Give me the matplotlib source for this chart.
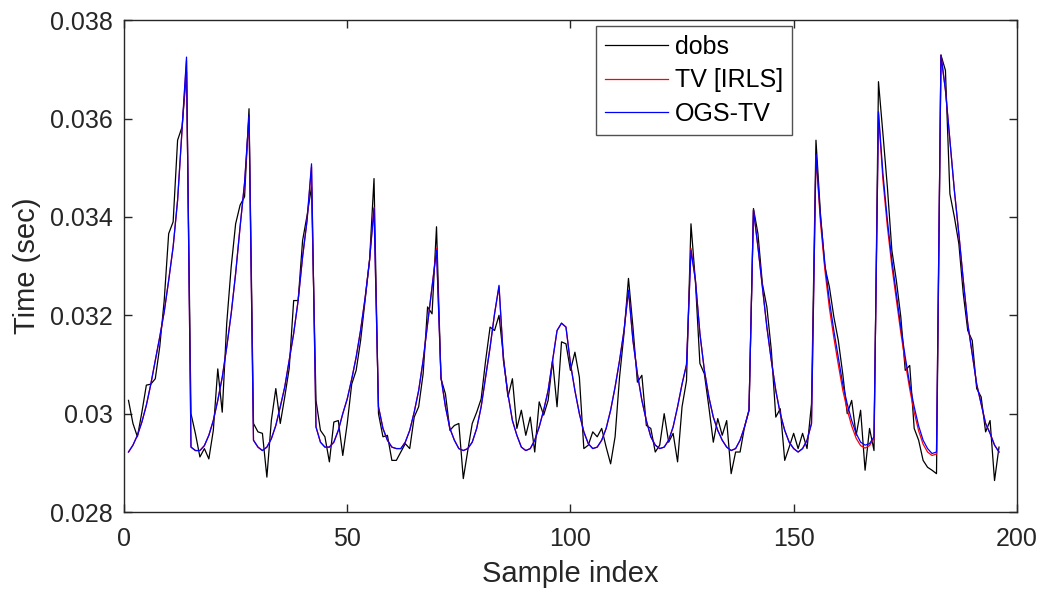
import matplotlib
matplotlib.use('Agg')
import matplotlib.pyplot as plt

# sample index 1..196
samples = list(range(1, 197))

dobs = [
    0.03027, 0.02980, 0.02953, 0.03003, 0.03058, 0.03060, 0.03071, 0.03136, 0.03230, 0.03366,
    0.03390, 0.03556, 0.03583, 0.03695, 0.03000, 0.02959, 0.02912, 0.02929, 0.02908, 0.02966,
    0.03091, 0.03003, 0.03183, 0.03298, 0.03386, 0.03424, 0.03441, 0.03620, 0.02980, 0.02963,
    0.02960, 0.02871, 0.02986, 0.03051, 0.02980, 0.03034, 0.03092, 0.03230, 0.03230, 0.03352,
    0.03403, 0.03461, 0.03027, 0.02966, 0.02953, 0.02902, 0.02983, 0.02986, 0.02915, 0.02980,
    0.03060, 0.03088, 0.03149, 0.03230, 0.03312, 0.03478, 0.03000, 0.02953, 0.02956, 0.02905,
    0.02905, 0.02922, 0.02939, 0.02929, 0.02993, 0.03014, 0.03081, 0.03217, 0.03203, 0.03380,
    0.03071, 0.03040, 0.02966, 0.02976, 0.02980, 0.02868, 0.02925, 0.02980, 0.03003, 0.03030,
    0.03108, 0.03176, 0.03169, 0.03200, 0.03115, 0.03034, 0.03071, 0.02970, 0.03007, 0.02956,
    0.02993, 0.02922, 0.03024, 0.02997, 0.03027, 0.03108, 0.03014, 0.03146, 0.03142, 0.03088,
    0.03125, 0.03074, 0.02929, 0.02936, 0.02963, 0.02953, 0.02970, 0.02932, 0.02898, 0.02953,
    0.03074, 0.03163, 0.03275, 0.03176, 0.03064, 0.03078, 0.02976, 0.02970, 0.02922, 0.02936,
    0.03000, 0.02942, 0.02960, 0.02902, 0.03014, 0.03067, 0.03386, 0.03268, 0.03102, 0.03081,
    0.03014, 0.02942, 0.02990, 0.02956, 0.02986, 0.02878, 0.02922, 0.02922, 0.02973, 0.03007,
    0.03417, 0.03366, 0.03264, 0.03217, 0.03129, 0.02993, 0.03010, 0.02905, 0.02932, 0.02960,
    0.02929, 0.02960, 0.02929, 0.03020, 0.03556, 0.03407, 0.03298, 0.03258, 0.03197, 0.03149,
    0.03081, 0.03000, 0.03027, 0.02956, 0.03007, 0.02885, 0.02970, 0.02925, 0.03675, 0.03569,
    0.03460, 0.03332, 0.03271, 0.03197, 0.03088, 0.03098, 0.02970, 0.02946, 0.02905, 0.02891,
    0.02885, 0.02878, 0.03729, 0.03698, 0.03447, 0.03400, 0.03346, 0.03244, 0.03169, 0.03149,
    0.03051, 0.03034, 0.02963, 0.02986, 0.02864, 0.02932,
]

tv_irls = [
    0.02922, 0.02936, 0.02956, 0.02983, 0.03017, 0.03060, 0.03108, 0.03156, 0.03207, 0.03271,
    0.03339, 0.03434, 0.03575, 0.03718, 0.02932, 0.02925, 0.02925, 0.02935, 0.02956, 0.02986,
    0.03027, 0.03074, 0.03135, 0.03203, 0.03285, 0.03380, 0.03468, 0.03602, 0.02946, 0.02932,
    0.02925, 0.02932, 0.02949, 0.02976, 0.03014, 0.03054, 0.03108, 0.03163, 0.03230, 0.03319,
    0.03393, 0.03502, 0.02973, 0.02942, 0.02932, 0.02932, 0.02942, 0.02966, 0.03000, 0.03030,
    0.03070, 0.03115, 0.03170, 0.03235, 0.03312, 0.03420, 0.03014, 0.02970, 0.02946, 0.02932,
    0.02929, 0.02929, 0.02942, 0.02966, 0.03003, 0.03047, 0.03108, 0.03183, 0.03258, 0.03336,
    0.03074, 0.03014, 0.02970, 0.02946, 0.02929, 0.02925, 0.02929, 0.02942, 0.02970, 0.03014,
    0.03074, 0.03135, 0.03203, 0.03258, 0.03108, 0.03040, 0.02986, 0.02956, 0.02932, 0.02925,
    0.02929, 0.02946, 0.02973, 0.03007, 0.03047, 0.03108, 0.03169, 0.03184, 0.03176, 0.03102,
    0.03047, 0.03000, 0.02963, 0.02939, 0.02929, 0.02932, 0.02946, 0.02970, 0.03007, 0.03054,
    0.03108, 0.03169, 0.03251, 0.03149, 0.03081, 0.03027, 0.02986, 0.02953, 0.02936, 0.02929,
    0.02932, 0.02946, 0.02973, 0.03014, 0.03060, 0.03100, 0.03336, 0.03271, 0.03163, 0.03088,
    0.03034, 0.02993, 0.02966, 0.02946, 0.02932, 0.02925, 0.02929, 0.02946, 0.02973, 0.03007,
    0.03414, 0.03339, 0.03258, 0.03176, 0.03108, 0.03047, 0.03000, 0.02966, 0.02942, 0.02929,
    0.02922, 0.02929, 0.02946, 0.02980, 0.03525, 0.03390, 0.03292, 0.03215, 0.03155, 0.03100,
    0.03048, 0.03008, 0.02975, 0.02950, 0.02935, 0.02930, 0.02935, 0.02950, 0.03610, 0.03475,
    0.03380, 0.03300, 0.03232, 0.03165, 0.03105, 0.03050, 0.03003, 0.02965, 0.02938, 0.02922,
    0.02915, 0.02918, 0.03729, 0.03658, 0.03556, 0.03454, 0.03366, 0.03271, 0.03183, 0.03122,
    0.03060, 0.03020, 0.02980, 0.02960, 0.02936, 0.02922,
]

ogs_tv = [
    0.02922, 0.02936, 0.02956, 0.02983, 0.03017, 0.03060, 0.03108, 0.03156, 0.03207, 0.03271,
    0.03339, 0.03434, 0.03580, 0.03725, 0.02932, 0.02925, 0.02925, 0.02935, 0.02956, 0.02986,
    0.03027, 0.03074, 0.03135, 0.03203, 0.03285, 0.03380, 0.03470, 0.03607, 0.02946, 0.02932,
    0.02925, 0.02932, 0.02949, 0.02976, 0.03014, 0.03054, 0.03108, 0.03163, 0.03230, 0.03319,
    0.03393, 0.03508, 0.02973, 0.02942, 0.02932, 0.02932, 0.02942, 0.02966, 0.03000, 0.03030,
    0.03070, 0.03115, 0.03170, 0.03235, 0.03312, 0.03417, 0.03014, 0.02970, 0.02946, 0.02932,
    0.02929, 0.02929, 0.02942, 0.02966, 0.03003, 0.03047, 0.03108, 0.03183, 0.03258, 0.03332,
    0.03074, 0.03014, 0.02970, 0.02946, 0.02929, 0.02925, 0.02929, 0.02942, 0.02970, 0.03014,
    0.03074, 0.03135, 0.03203, 0.03261, 0.03108, 0.03040, 0.02986, 0.02956, 0.02932, 0.02925,
    0.02929, 0.02946, 0.02973, 0.03007, 0.03047, 0.03108, 0.03169, 0.03184, 0.03176, 0.03102,
    0.03047, 0.03000, 0.02963, 0.02939, 0.02929, 0.02932, 0.02946, 0.02970, 0.03007, 0.03054,
    0.03108, 0.03169, 0.03251, 0.03149, 0.03081, 0.03027, 0.02986, 0.02953, 0.02936, 0.02929,
    0.02932, 0.02946, 0.02973, 0.03014, 0.03060, 0.03100, 0.03332, 0.03271, 0.03163, 0.03088,
    0.03034, 0.02993, 0.02966, 0.02946, 0.02932, 0.02925, 0.02929, 0.02946, 0.02973, 0.03007,
    0.03414, 0.03339, 0.03258, 0.03176, 0.03108, 0.03047, 0.03000, 0.02966, 0.02942, 0.02929,
    0.02922, 0.02929, 0.02946, 0.02980, 0.03529, 0.03400, 0.03305, 0.03230, 0.03169, 0.03115,
    0.03060, 0.03020, 0.02986, 0.02960, 0.02942, 0.02936, 0.02939, 0.02953, 0.03614, 0.03488,
    0.03393, 0.03312, 0.03244, 0.03176, 0.03115, 0.03060, 0.03014, 0.02975, 0.02946, 0.02929,
    0.02919, 0.02922, 0.03729, 0.03658, 0.03556, 0.03454, 0.03366, 0.03271, 0.03183, 0.03122,
    0.03060, 0.03020, 0.02980, 0.02960, 0.02936, 0.02922,
]

xticks = [0, 50, 100, 150, 200]
yticks = [0.028, 0.030, 0.032, 0.034, 0.036, 0.038]
ytick_labels = ['0.028', '0.03', '0.032', '0.034', '0.036', '0.038']

plt.rcParams['font.family'] = ['Liberation Sans', 'DejaVu Sans']
dark = '#262626'

fig = plt.figure(figsize=(10.44, 5.94), dpi=100)
ax = fig.add_axes([0.1188, 0.138, 0.8552, 0.828])

ax.plot(samples, dobs, color='k', lw=0.9, label='dobs')
ax.plot(samples, tv_irls, color='r', lw=0.9, label='TV [IRLS]')
ax.plot(samples, ogs_tv, color='b', lw=0.9, label='OGS-TV')

ax.set_xlim(0, 200)
ax.set_ylim(0.028, 0.038)
ax.set_xticks(xticks)
ax.set_yticks(yticks)
ax.set_yticklabels(ytick_labels)
ax.tick_params(direction='in', length=6, width=1, labelsize=18, colors=dark,
               top=True, right=True, labelcolor=dark)
ax.tick_params(axis='x', pad=11)
ax.tick_params(axis='y', pad=8)
for s in ax.spines.values():
    s.set_color(dark)
    s.set_linewidth(1)
ax.set_xlabel('Sample index', fontsize=21, color=dark)
ax.set_ylabel('Time (sec)', fontsize=21, color=dark)
ax.xaxis.set_label_coords(0.5, -0.098)
ax.yaxis.set_label_coords(-0.093, 0.5)

leg = ax.legend(loc='upper left', bbox_to_anchor=(0.529, 0.988), fontsize=18, frameon=True,
                fancybox=False, handlelength=2.5, handletextpad=0.3, borderpad=0.35,
                labelspacing=0.38, borderaxespad=0)
leg.get_frame().set_edgecolor(dark)
leg.get_frame().set_linewidth(1)

fig.savefig('out.png', dpi=100)
